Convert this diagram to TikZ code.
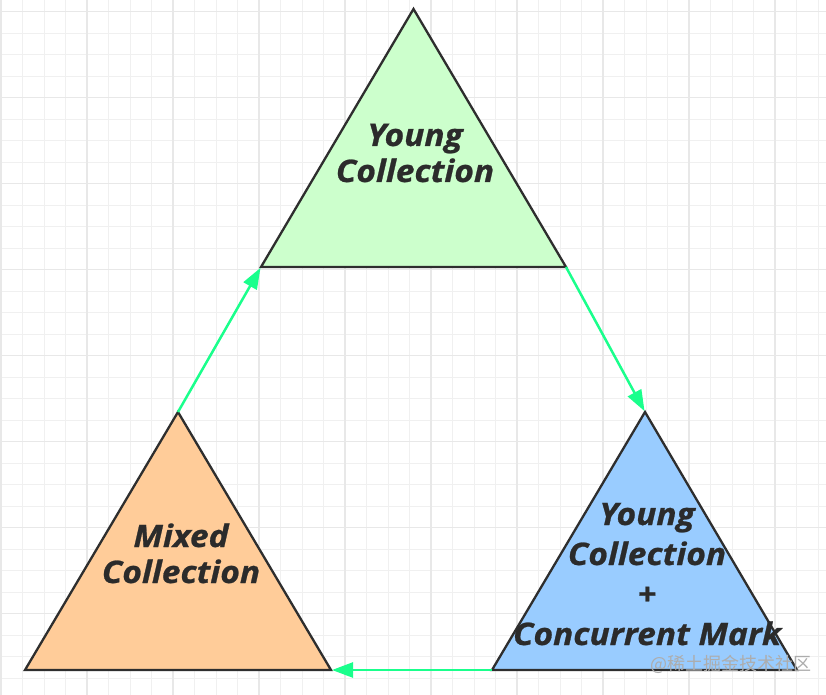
\documentclass[tikz,border=0pt]{standalone}
\usepackage{fontspec}
\newfontfamily\labfont{Open Sans}[FakeStretch=1.08,FakeBold=0.8]
\newfontfamily\cjk{Noto Sans CJK SC}
\usetikzlibrary{arrows.meta}
\definecolor{gridminor}{HTML}{F0F0F0}
\definecolor{gridmajor}{HTML}{E8E8E8}
\definecolor{edge}{HTML}{2E2E2E}
\definecolor{txt}{HTML}{2B2B2B}
\definecolor{greenfill}{HTML}{CCFFCC}
\definecolor{orangefill}{HTML}{FFCC99}
\definecolor{bluefill}{HTML}{99CCFF}
\definecolor{arrowgreen}{HTML}{1AFF8C}
\tikzset{
  tri/.style={draw=edge, line width=2.3pt, line join=miter},
  lab/.style={text=txt, align=center, inner sep=0pt, font=\labfont\bfseries\itshape\fontsize{31}{36}\selectfont},
  flow/.style={draw=arrowgreen, line width=2.5pt, -{Triangle[length=21pt,width=15pt]}, shorten >=1pt},
}
\begin{document}
\begin{tikzpicture}[x=1pt,y=-1pt]
\useasboundingbox (0,0) rectangle (826,695);
\fill[white] (0,0) rectangle (826,695);
% grid
\foreach \k in {0,...,38} {
  \pgfmathsetmacro{\gx}{1+21.5*\k}
  \draw[gridminor, line width=1pt] (\gx,0) -- (\gx,695);
}
\foreach \k in {0,...,32} {
  \pgfmathsetmacro{\gy}{11.7+21.5*\k}
  \draw[gridminor, line width=1pt] (0,\gy) -- (826,\gy);
}
\foreach \k in {0,...,9} {
  \pgfmathsetmacro{\gx}{1+86*\k}
  \draw[gridmajor, line width=1.2pt] (\gx,0) -- (\gx,695);
}
\foreach \k in {0,...,8} {
  \pgfmathsetmacro{\gy}{11.7+86*\k}
  \draw[gridmajor, line width=1.2pt] (0,\gy) -- (826,\gy);
}
% triangle vertices
\coordinate (yTop) at (413.5,9);
\coordinate (yL) at (261,267);
\coordinate (yR) at (566,267);
\coordinate (mTop) at (178,412);
\coordinate (mL) at (25,670);
\coordinate (mR) at (331,670);
\coordinate (cTop) at (645,412);
\coordinate (cL) at (492,670);
\coordinate (cR) at (797,670);
% triangles
\draw[tri, fill=greenfill] (yTop) -- (yL) -- (yR) -- cycle;
\draw[tri, fill=orangefill] (mTop) -- (mL) -- (mR) -- cycle;
\draw[tri, fill=bluefill] (cTop) -- (cL) -- (cR) -- cycle;
% labels (base anchor = baseline of the last line)
\node[lab, anchor=base] (young) at (415,182) {Young\\Collection};
\node[lab, anchor=base] (mixed) at (181,583) {Mixed\\Collection};
\node[lab, anchor=base, font=\labfont\bfseries\itshape\fontsize{31}{40}\selectfont] (ycm) at (647,645) {Young\\Collection\\+\\Concurrent Mark};
% arrows
\draw[flow] (mTop) -- (yL);
\draw[flow] (yR) -- (cTop);
\draw[flow] (cL) -- (mR);
% watermark
\node[text=black!32, font=\cjk\fontsize{18}{18}\selectfont, anchor=base west, inner sep=0pt] (wm) at (650,670) {@稀土掘金技术社区};
\end{tikzpicture}
\end{document}
